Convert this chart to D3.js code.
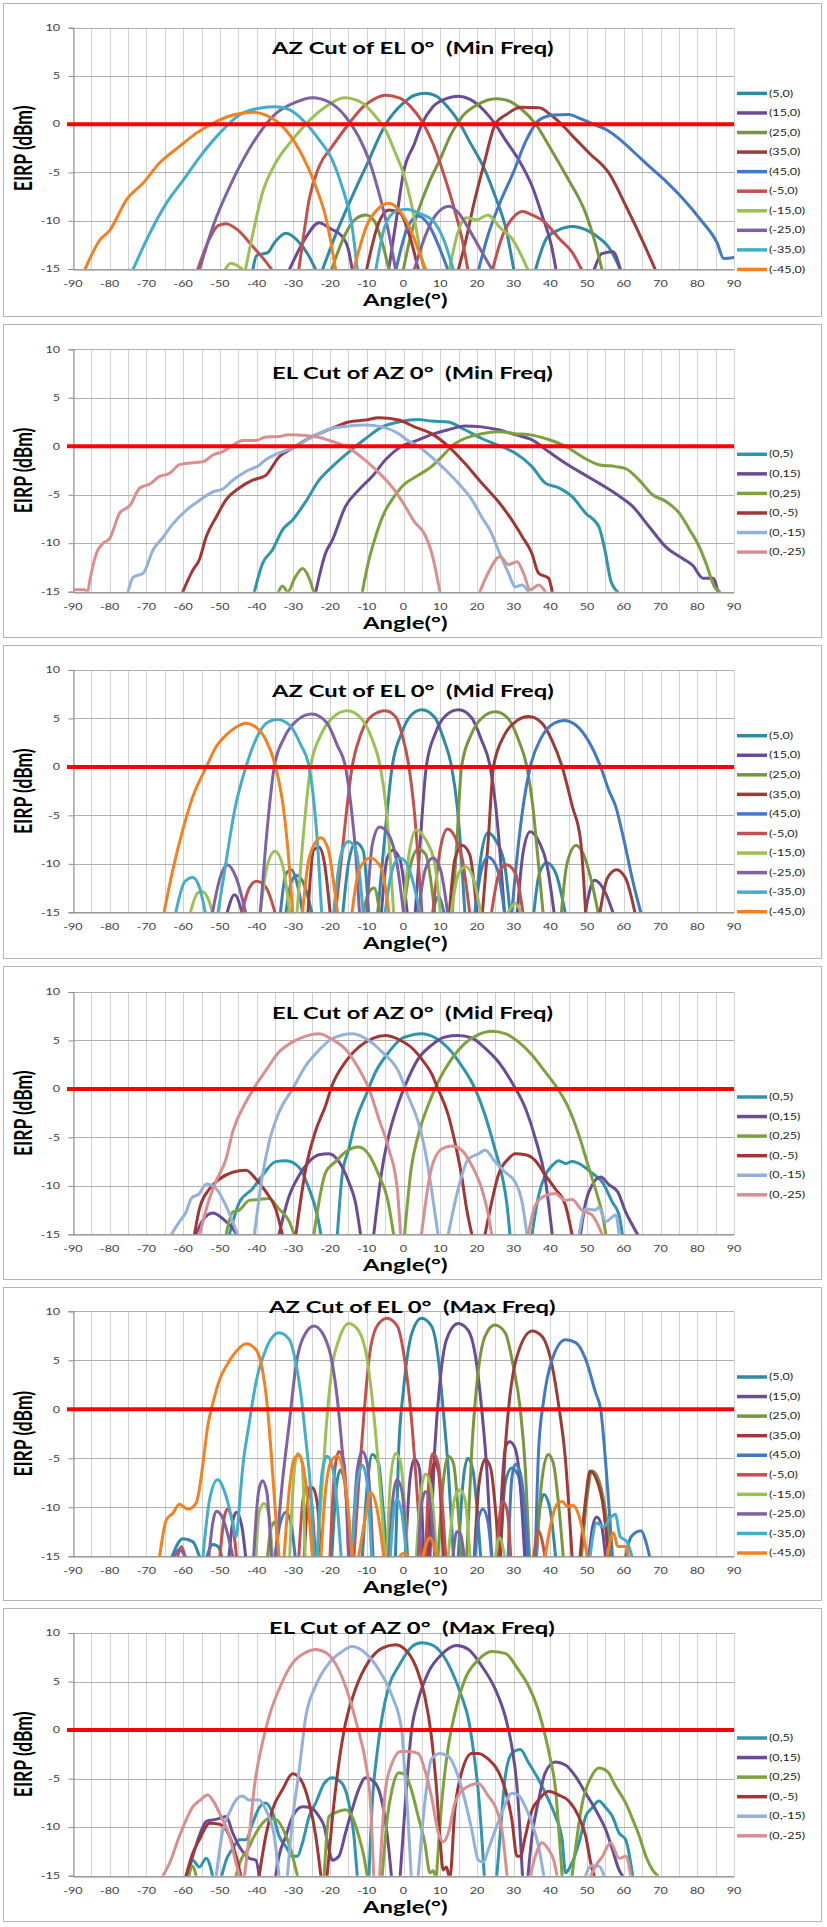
<!DOCTYPE html>
<html><head><meta charset="utf-8">
<script src="https://cdn.jsdelivr.net/npm/d3@7"></script>
<style>
body{margin:0;background:#fff}
svg{display:block}
text{font-family:Lato,"Open Sans","DejaVu Sans",sans-serif}
</style>
</head><body>
<svg id="chart" width="827" height="1927"></svg>
<script>
// ---------------- DATA ----------------
const angleTicks = [-90,-80,-70,-60,-50,-40,-30,-20,-10,0,10,20,30,40,50,60,70,80,90];
const eirpTicks = [-15,-10,-5,0,5,10];
const refLevel = 0;
const panelTitles = ["AZ Cut of EL 0°","EL Cut of AZ 0°","AZ Cut of EL 0°","EL Cut of AZ 0°","AZ Cut of EL 0°","EL Cut of AZ 0°"];
const panelFreqs = ["(Min Freq)","(Min Freq)","(Mid Freq)","(Mid Freq)","(Max Freq)","(Max Freq)"];
const xAxisTitle = "Angle(°)";
const yAxisTitle = "EIRP (dBm)";
const azNames = ["(5,0)","(15,0)","(25,0)","(35,0)","(45,0)","(-5,0)","(-15,0)","(-25,0)","(-35,0)","(-45,0)"];
const elNames = ["(0,5)","(0,15)","(0,25)","(0,-5)","(0,-15)","(0,-25)"];
const azColors = ["#2F8AA5","#6A4B96","#78963B","#9E3B38","#4279C2","#C4504D","#9BC153","#7F61A6","#42AECB","#F4801F"];
const elColors = ["#2E95AE","#6A4B96","#7DA23C","#A33634","#93B1DA","#DA8F8E"];

// ---- AZ cut, Min Freq ----
const azMin_p5 = [[-41,-15],[-40,-13.6],[-37,-13.3],[-35,-12.2],[-32,-11.3],[-29,-12],[-26,-13.5],[-24,-15],null,
 [-22,-15],[-18,-11],[-14,-7.5],[-10,-4.2],[-5,-0.1],[0,2.2],[3,3.0],[6,3.2],[9,2.9],[12,1.8],[15,0.3],[18,-1.8],[22,-4.6],[25,-7.5],[28,-11],[30,-15],null,
 [36,-15],[39,-11.8],[42,-11],[46,-10.6],[50,-11],[54,-12],[56,-12.8],[59,-15]];
const azMin_p15 = [[-31,-15],[-27,-12],[-23,-10.2],[-20,-10.8],[-17,-11.5],[-15,-13],[-14,-15],null,
 [-4,-15],[-2,-10],[0,-5],[3,-2],[5,0],[8,1.8],[12,2.7],[15,2.9],[18,2.6],[22,1.4],[25,0],[27.7,-1.6],[31.4,-3.7],[35,-6.4],[37.8,-9.5],[40.3,-12.6],[41.5,-15],null,
 [52,-15],[54,-13.4],[57,-13.2],[59,-15]];
const azMin_p25 = [[-19.5,-15],[-16,-11.5],[-13,-9.8],[-10.3,-9.4],[-8,-10],[-6,-12],[-4,-15],null,
 [0,-15],[2,-11.5],[4,-9],[7,-6],[10,-3.6],[13,-1],[16,0.8],[20,2.0],[25,2.65],[28,2.5],[32,1.6],[36,0],[40,-2.5],[44.4,-5.4],[49.9,-9.5],[52,-12],[54,-15]];
const azMin_p35 = [[-10,-15],[-7,-10.5],[-4,-8.9],[-1,-9.2],[2,-12],[4,-15],null,
 [15,-15],[17,-12],[19,-8.5],[22,-4],[25,0],[28,1.0],[32,1.75],[37,1.7],[40,1.0],[43,0],[47,-1.6],[50.6,-3.0],[56,-5.1],[60.6,-8.5],[65,-12],[68.5,-15]];
const azMin_p45 = [[-2,-15],[1,-10.8],[4,-9.5],[7,-10.5],[10,-13],[12,-15],null,
 [20.5,-15],[23,-11.5],[26.2,-8.2],[29.8,-5.1],[33.5,-1.6],[37,0.45],[41,0.95],[45,1.0],[48,0.6],[51.7,0],[55.4,-0.6],[59,-1.6],[62.5,-2.8],[67,-4.4],[71.7,-6.0],[76.3,-7.8],[80.9,-9.9],[85.4,-12.3],[87.2,-13.9],[90,-13.8]];
const azMin_n5 = [[-56,-15],[-53,-12],[-50.5,-10.5],[-48.3,-10.3],[-45,-11],[-41,-12.7],[-38,-14],[-36,-15],null,
 [-28.5,-15],[-27,-11],[-25.7,-7.8],[-23,-4.4],[-19.4,-2.3],[-15,0],[-11,1.8],[-8,2.6],[-5,3.0],[-1,2.7],[2,1.8],[5,0.3],[8,-2],[11,-5.2],[14,-9],[16,-12],[17.5,-15],null,
 [24.3,-15],[27,-11.5],[30,-9.6],[32.5,-9.05],[35,-9.4],[38,-10],[42.5,-11.9],[46,-13.3],[48.4,-15]];
const azMin_n15 = [[-48.5,-15],[-47,-14.4],[-45.5,-14.6],[-44,-15],null,
 [-43,-15],[-41,-11.3],[-38.4,-7.1],[-34.8,-4],[-30.2,-1.6],[-26.6,0],[-21.2,1.8],[-16.2,2.75],[-11.2,2.2],[-7.6,0.8],[-4.9,-0.6],[-2.2,-3],[0,-5.1],[2,-8],[4,-12],[5.5,-15],null,
 [12.5,-15],[15,-11],[17,-9.7],[20,-9.9],[23,-9.4],[26,-10.6],[29.8,-12],[33.8,-15]];
const azMin_n25 = [[-55.5,-15],[-51.9,-10.6],[-46.5,-5.8],[-41.1,-2],[-34.8,1.1],[-29.3,2.3],[-24.8,2.75],[-20.3,2.3],[-15.8,0.8],[-12.2,-1.3],[-9.4,-3.7],[-6.7,-7.1],[-4,-11.3],[-2.2,-15],null,
 [3,-15],[6,-11.5],[9,-9.3],[12.5,-8.5],[15,-9.2],[18,-11],[21,-13],[24,-15]];
const azMin_n35 = [[-73.6,-15],[-70,-12],[-64.6,-8.2],[-60,-5.8],[-55.5,-3.4],[-50.1,-0.95],[-44.7,0.95],[-39.3,1.65],[-34.8,1.8],[-31.1,1.5],[-26.6,0.1],[-23,-1.6],[-19.4,-3.7],[-16.7,-6.5],[-14,-10.6],[-12.6,-15],null,
 [-7.5,-15],[-5,-10.5],[-2,-9],[1,-8.8],[4,-9.2],[8,-10],[11,-12],[13.5,-15]];
const azMin_n45 = [[-86.7,-15],[-82.7,-12],[-80,-11],[-75.4,-7.8],[-70.9,-6.1],[-66.4,-4],[-61,-2.3],[-56.5,-0.95],[-51.9,0.1],[-46.5,0.95],[-41.1,1.25],[-37.5,0.95],[-32.9,-0.25],[-28.4,-2.65],[-23.9,-6.45],[-21.2,-9.6],[-19.4,-13],[-18.5,-15],null,
 [-13.5,-15],[-10,-10.5],[-7,-8.8],[-4,-8.2],[-1,-9],[2,-11],[4,-13],[6,-15]];

// ---- EL cut, Min Freq ----
const elMin_p5 = [[-40.6,-15],[-38.4,-12.1],[-35.7,-10.7],[-32.9,-8.6],[-30.2,-7.6],[-26.6,-5.7],[-23,-3.5],[-19.4,-2.1],[-14.9,-0.6],[-10.3,0.8],[-5.8,2.0],[-1.3,2.5],[4,2.75],[7.6,2.6],[12.2,2.5],[16.7,1.7],[21.3,0.8],[25.8,0.1],[30.4,-0.7],[35,-2.1],[38.6,-3.8],[42.3,-4.3],[45.9,-5.2],[49.6,-6.9],[53.2,-8.3],[55,-11],[56.4,-13.8],[58.3,-15]];
const elMin_p15 = [[-23.9,-15],[-21.2,-11],[-19.4,-9.7],[-15.8,-6.2],[-12.2,-4.5],[-8.5,-3.1],[-4.9,-1.4],[0,0.1],[3,0.5],[7.6,1.2],[12.2,1.7],[16.7,2.1],[21.3,2.0],[25.8,1.7],[30.4,1.2],[35,0.65],[39.5,-0.55],[44.1,-1.75],[48.7,-2.8],[53.2,-3.8],[57.8,-4.9],[62.4,-6.2],[66.9,-8.3],[71.5,-10.4],[76.1,-11.6],[78.8,-12.3],[81.5,-13.6],[84.3,-13.6],[85.6,-15]];
const elMin_p25 = [[-34,-15],[-33,-14.4],[-31.5,-15],[-29.5,-13.5],[-27.5,-12.6],[-25.5,-13.8],[-24.5,-15],null,
 [-11.2,-15],[-9.4,-11.7],[-7.6,-9.3],[-4.9,-6.6],[-3.1,-5.5],[0,-4],[4,-3.0],[7.6,-2.1],[10.4,-1.1],[13.1,0],[16.7,0.8],[21.3,1.3],[25.8,1.5],[30.4,1.3],[35,1.15],[39.5,0.7],[44.1,0],[48.7,-1.1],[53.2,-1.9],[57.8,-2.1],[60.5,-2.3],[64.2,-3.5],[67.8,-5.0],[71.5,-5.7],[75.1,-6.9],[77.9,-8.6],[80.6,-10.4],[82.4,-12.1],[84.7,-14.5],[86.1,-15]];
const elMin_n5 = [[-60.1,-15],[-57.4,-12.8],[-55.6,-11.7],[-53.7,-9.3],[-51,-7.3],[-48.3,-5.5],[-44.7,-4.3],[-41.1,-3.5],[-37.5,-3.0],[-33.9,-1.1],[-30.2,-0.2],[-26.6,0.65],[-23,1.3],[-19.4,1.85],[-14.9,2.5],[-10.3,2.7],[-6.7,2.95],[-1.3,2.7],[3,2.0],[7.6,1.3],[12.2,0],[16.7,-1.75],[21.3,-3.8],[25.8,-5.7],[29.5,-7.6],[32.3,-9.3],[34.9,-11],[36.8,-13.1],[39.5,-13.6],[40.5,-15]];
const elMin_n15 = [[-75,-15],[-73.6,-13.5],[-70.9,-13.1],[-68.2,-10.7],[-65.5,-9.4],[-62.8,-8.0],[-59.2,-6.6],[-55.6,-5.6],[-51.9,-4.7],[-49.2,-4.4],[-46.5,-3.5],[-42.9,-2.6],[-39.3,-1.95],[-37.5,-1.4],[-33.9,-0.7],[-30.2,-0.2],[-24.8,1.0],[-19.4,1.85],[-14.9,2.1],[-10.3,2.2],[-5.8,2.0],[-1.3,1.3],[1.2,0.6],[4,0],[7.6,-1.1],[11.3,-2.4],[14.9,-3.8],[18.6,-5.5],[21.3,-7.3],[24,-9],[25.8,-10.7],[28.6,-13.1],[30.4,-14.5],[32.3,-14.3],[34,-15]];
const elMin_n25 = [[-90,-14.8],[-87,-14.8],[-86,-15],[-85.4,-13.8],[-83.6,-11],[-81.8,-10],[-80,-9.5],[-77.3,-6.9],[-74.5,-6.1],[-71.8,-4.3],[-69.1,-3.9],[-66.4,-3.1],[-63.7,-2.8],[-61,-1.9],[-57.4,-1.7],[-54.6,-1.6],[-51.9,-0.9],[-49.2,-0.55],[-46.5,0.1],[-43.8,0.6],[-40.2,0.6],[-37.5,0.95],[-33.9,1.0],[-31.3,1.2],[-26.6,1.1],[-23.5,0.95],[-19.4,0.5],[-15.8,0],[-12.2,-0.9],[-7.6,-2.4],[-3.1,-4.2],[0,-5.9],[3,-7.8],[5.8,-9.1],[7.6,-10.9],[9.9,-15],null,
 [20.8,-15],[23,-13.1],[26.3,-11.4],[28.6,-12.2],[30.9,-11.9],[32.7,-13.1],[34.5,-14.8],[36.8,-14.3],[38.6,-15]];

// ---- AZ cut, Mid Freq ----
const azMid_p5 = [[-32,-15],[-30.5,-11.8],[-29,-11.2],[-27,-12.2],[-25,-15],null,
 [-16.5,-15],[-15,-10],[-13,-7.8],[-11,-8.6],[-9.5,-15],null,
 [-7,-15],[-5.3,-8],[-3.1,0],[-0.5,3.5],[2,5.3],[5,5.9],[8.5,5.1],[11,2.8],[13.1,0],[14.6,-4],[15.7,-9],[16.7,-15],null,
 [19.5,-15],[21,-9.5],[23,-6.8],[25,-7.5],[27.5,-10],[29,-15],null,
 [35.5,-15],[37,-11],[39,-9.9],[41.5,-11],[44,-15]];
const azMid_p15 = [[-48,-15],[-46,-13.2],[-44,-15],null,
 [-6,-15],[-4.5,-9.5],[-3,-8.6],[-1,-9.5],[1,-15],null,
 [3.2,-15],[4.5,-8],[6.2,0],[8.7,3.5],[11.5,5.3],[15,5.9],[18.5,5.1],[21.2,2.8],[23.6,0],[25.1,-4],[26.3,-9],[27.5,-15],null,
 [31,-15],[32.5,-9],[34.5,-6.7],[37,-7.8],[39,-10],[41,-15],null,
 [49.5,-15],[52,-11.7],[55,-13],[57,-15]];
const azMid_p25 = [[-11,-15],[-9.5,-13],[-8,-12.5],[-6.5,-15],null,
 [0,-15],[2,-10],[4,-8.5],[6,-9],[8.5,-15],null,
 [13.3,-15],[14.5,-8],[15.8,0],[18.5,3.4],[21.5,5.1],[25,5.7],[28.5,5.0],[31.3,2.8],[33.6,0],[35.2,-4],[36.5,-9],[38,-15],null,
 [43,-15],[44.5,-10],[47,-8.1],[49,-9],[51,-11.5],[53,-15]];
const azMid_p35 = [[-26,-15],[-24.5,-8.6],[-23,-8.3],[-21.5,-10],[-20,-15],null,
 [12.5,-15],[14,-9.5],[16,-8.1],[18,-9],[20,-15],null,
 [21.5,-15],[23,-8],[24.5,0],[27.5,3.3],[31,4.8],[34,5.2],[37.5,4.6],[40.5,2.7],[43.2,0],[46,-4.1],[48.2,-7.5],[49.6,-15],null,
 [53.5,-15],[55.5,-11.5],[58,-10.6],[60.5,-11.5],[63,-15]];
const azMid_p45 = [[-33.5,-15],[-32,-11],[-30.5,-10.6],[-29,-12],[-27.5,-15],null,
 [8,-15],[9.5,-13.4],[11,-15],null,
 [19.5,-15],[21,-11],[23,-9.3],[25.5,-10.5],[27.5,-15],null,
 [29.5,-15],[31,-9],[32.8,-3.5],[34.5,0],[37.5,3],[41,4.5],[43.7,4.8],[47,4.3],[50.5,2.6],[53.7,0],[56,-2.5],[57.8,-4.1],[60,-7.5],[62.4,-11.7],[64.6,-15]];
const azMid_n5 = [[-44,-15],[-42,-12.5],[-40,-11.8],[-37.5,-12.4],[-35,-15],null,
 [-18.5,-15],[-16.5,-8],[-14,0],[-11.5,3.5],[-8.5,5.3],[-5,5.8],[-2,5.1],[-0.3,3.2],[1.5,0],[2.8,-4],[3.9,-9],[5,-15],null,
 [8,-15],[10,-8.5],[12,-6.4],[14,-7.2],[16,-9.5],[18,-15],null,
 [24,-15],[26,-11],[28,-10.1],[30.5,-11],[32.5,-15]];
const azMid_n15 = [[-58,-15],[-56,-13],[-54.6,-12.9],[-53,-13.8],[-52,-15],null,
 [-39,-15],[-37,-10],[-35,-8.7],[-33,-10],[-31,-15],null,
 [-29,-15],[-27.5,-8],[-25.3,0],[-22.5,3.3],[-19,5.2],[-15.3,5.8],[-11.5,5.0],[-8.5,2.8],[-6.3,0],[-4.8,-4],[-3.7,-9],[-2.7,-15],null,
 [0,-15],[1.5,-9],[3.5,-6.5],[6,-7.5],[8.5,-10],[10,-15],null,
 [13,-15],[15,-11],[17,-10.3],[19,-11.5],[21,-15],null,
 [28.5,-15],[30.4,-14.1],[32,-15]];
const azMid_n25 = [[-52,-15],[-50,-11.5],[-48,-10.1],[-45.5,-11.5],[-43,-15],null,
 [-39,-15],[-37.5,-8],[-35.2,0],[-32.5,3],[-29,4.8],[-25,5.45],[-21,4.6],[-18,2.2],[-15.8,0],[-14.3,-4],[-13,-9],[-12,-15],null,
 [-10,-15],[-8.5,-8],[-6.5,-6.2],[-4,-7],[-2,-9.5],[0,-15],null,
 [4,-15],[6,-10.5],[8,-9.4],[10,-10.5],[12,-15]];
const azMid_n35 = [[-62,-15],[-59.5,-11.8],[-57.4,-11.4],[-55.5,-12.5],[-54,-15],null,
 [-50.5,-15],[-48,-9],[-46,-4.5],[-42.9,0],[-40,3],[-37,4.6],[-34.5,4.9],[-31,4.3],[-28,2.3],[-25.7,0],[-24.3,-4],[-23.3,-8.5],[-22.3,-15],null,
 [-19,-15],[-17,-9],[-15,-7.7],[-13,-8.5],[-11,-15],null,
 [-5,-15],[-3,-10.5],[-1,-9.4],[1,-10],[3,-12.5],[4.5,-15]];
const azMid_n45 = [[-65.2,-15],[-62.8,-10.6],[-60.1,-6.5],[-57.4,-3.1],[-53.7,0],[-51,2.1],[-48.3,3.3],[-45.6,4.1],[-42.9,4.5],[-40.2,4.1],[-37.5,2.8],[-34.8,0],[-33,-3.4],[-31.6,-8],[-30.2,-15],null,
 [-27.5,-15],[-26,-10],[-24,-7.8],[-22.5,-7.3],[-20.5,-8.5],[-19,-12],[-18,-15],null,
 [-14,-15],[-12,-10.5],[-9,-9.4],[-6,-10.5],[-4,-15]];

// ---- EL cut, Mid Freq ----
const elMid_p5 = [[-47.4,-15],[-44.7,-11.7],[-41.1,-10.3],[-38.4,-8.9],[-34.8,-7.5],[-32,-7.4],[-28.4,-8.1],[-25.7,-10.3],[-23.5,-13],[-22.5,-15],null,
 [-18,-15],[-16.7,-8.9],[-14.9,-6.2],[-13.1,-3.4],[-10.3,-0.7],[-7.6,1.75],[-4,3.8],[-0.5,5.2],[1.2,5.45],[4.9,5.7],[8.5,5.3],[12.2,4.2],[15.8,2.4],[19.5,0],[22.2,-2.7],[24.9,-6.2],[26.8,-8.9],[28.1,-11.7],[29,-15],null,
 [35,-15],[36.8,-11],[38.6,-8.9],[40.5,-7.9],[42.3,-7.4],[44.1,-7.7],[45.9,-7.5],[48.7,-7.9],[51.4,-8.7],[54.1,-9.6],[56.9,-11.7],[58.7,-13],[59.6,-15]];
const elMid_p15 = [[-56.5,-15],[-54.6,-13.5],[-51.9,-12.8],[-49.2,-13.4],[-46.5,-14.4],[-45.5,-15],null,
 [-33.9,-15],[-31.1,-11],[-28.4,-8.9],[-25.7,-7.5],[-23,-6.8],[-20.3,-6.7],[-17.6,-7.5],[-14.9,-9.6],[-13.1,-11.7],[-11.7,-15],null,
 [-8.1,-15],[-5.8,-8.2],[-4,-4.8],[-1.3,-1.35],[1.4,1.2],[4,3.1],[7.6,4.5],[11.3,5.35],[14.9,5.5],[18.6,5.25],[22.2,4.2],[25.8,2.8],[29.5,0.7],[33.2,-2],[35.9,-5.1],[38.6,-9.3],[40.5,-15],null,
 [48.2,-15],[49.6,-11.7],[51.4,-9.9],[53.7,-9.1],[56,-9.9],[58.3,-10.6],[60.5,-12.7],[62.4,-14.1],[63.7,-15]];
const elMid_p25 = [[-48.3,-15],[-46.5,-12.7],[-44.7,-12.5],[-42,-11.5],[-39.3,-11.4],[-36.6,-11.3],[-33.9,-12.4],[-31.1,-13.7],[-29.8,-15],null,
 [-24.4,-15],[-21.2,-8.6],[-18.5,-7.5],[-15.8,-6.5],[-12.2,-6.0],[-9.4,-6.8],[-6.7,-8.9],[-4.4,-11.3],[-2.7,-15],null,
 [0.3,-15],[2.1,-8.2],[4,-4.8],[6.7,-1.7],[9.4,0.7],[13.1,3.1],[16.7,4.7],[20.4,5.6],[24,5.95],[27.7,5.7],[31.3,4.85],[35,3.5],[38.6,1.75],[42.3,-0.15],[45,-2.0],[47.8,-4.8],[50.5,-8.2],[52.8,-11],[54.2,-13],[55.1,-15]];
const elMid_n5 = [[-56.9,-15],[-55.6,-12.4],[-52.8,-10.3],[-50.1,-9.3],[-46.5,-8.6],[-42.9,-8.4],[-40.2,-9.3],[-37.5,-10.6],[-34.8,-12.4],[-33,-15],null,
 [-29.3,-15],[-26.6,-8.2],[-24,-4.4],[-21.2,-1.7],[-19.4,0.4],[-15.8,2.8],[-12.2,4.3],[-8.5,5.2],[-4.9,5.5],[-1.3,5.1],[2.1,4.3],[4.9,3.1],[7.6,1.6],[9.4,0],[12.2,-2.7],[14,-5.5],[15.8,-8.9],[17.2,-12.4],[18.6,-15],null,
 [22.2,-15],[24,-11.7],[25.8,-8.9],[28.6,-7.2],[30.4,-6.7],[33.2,-6.8],[35.9,-7.4],[38.6,-8.9],[41.3,-10.3],[44.1,-12],[45.9,-15]];
const elMid_n15 = [[-63.2,-15],[-61,-13.7],[-59.2,-12.7],[-57.8,-11.3],[-55.6,-10.8],[-53.7,-9.8],[-51,-10.3],[-48.8,-11.7],[-46.5,-13.7],[-45.2,-15],null,
 [-40.6,-15],[-38.4,-8.9],[-36.6,-5.5],[-33.9,-2.4],[-30.2,0],[-26.6,2.4],[-23,4.0],[-19.4,5.2],[-14,5.7],[-10.3,5.2],[-5.8,3.8],[-1.3,1.75],[1.2,-0.7],[4,-3.4],[5.8,-6.2],[7.6,-10.3],[9.4,-15],null,
 [12.2,-15],[14.9,-10.3],[17.7,-7.2],[20.4,-6.7],[22.2,-6.3],[24.9,-7.5],[27.7,-8.6],[30.4,-9.6],[32.3,-11.7],[33.6,-15],null,
 [47.8,-15],[49.6,-12.4],[52.3,-12.5],[53.2,-12.2],[55,-13.7],[57.8,-13],[58.7,-15]];
const elMid_n25 = [[-55.5,-15],[-53,-11.5],[-51,-9.5],[-48.3,-7.2],[-46.5,-4.4],[-42.9,-1.35],[-40.2,0.4],[-37.5,1.9],[-33.9,3.8],[-30.2,4.85],[-26.6,5.45],[-23,5.7],[-19.4,5.1],[-15.8,4.1],[-12.2,2.1],[-9.4,0],[-6.7,-3.1],[-4,-6.2],[-1.7,-10.3],[-0.8,-15],null,
 [4.9,-15],[7.6,-8.2],[10.4,-6.2],[13.1,-5.9],[15.8,-6.3],[18.6,-7.9],[21.3,-10.3],[23.1,-13],[24,-15],null,
 [34,-15],[35.9,-12],[38.6,-11],[41.3,-10.8],[44,-11.5],[45.9,-11.4],[48.5,-12.5],[51.3,-13],[54.1,-15]];

// ---- AZ cut, Max Freq ----
const azMax_p5 = [[-63,-15],[-60.1,-13.2],[-57.4,-13.5],[-55.6,-15],null,
 [-53.5,-15],[-52,-13.8],[-50.5,-14],[-49.5,-15],null,
 [-19.5,-15],[-18.3,-8],[-17.2,-6.2],[-16,-7.5],[-14.5,-15],null,
 [-11.2,-15],[-9.8,-7.5],[-8.5,-4.6],[-6.8,-5.5],[-5.4,-10.9],[-4.5,-15],null,
 [-2.2,-15],[-1.3,-4.1],[0,2],[2.3,7.8],[4.9,9.3],[7.6,8.5],[9.4,5.4],[10.8,0],[12.2,-6.2],[13.6,-15],null,
 [14.9,-15],[16.2,-7.5],[17.5,-5],[18.9,-6.2],[20.2,-10.9],[21,-15],null,
 [26.4,-15],[27.7,-7.5],[29.5,-6],[31.3,-6.8],[32.7,-10.9],[33.6,-15],null,
 [36.2,-15],[37.1,-10.2],[38.2,-8.7],[39.9,-10.2],[41.4,-15]];
const azMax_p15 = [[-47.5,-15],[-46.5,-11.5],[-45.5,-10.5],[-44,-12],[-43,-15],null,
 [0.5,-15],[1.8,-7],[3,-5.1],[4.3,-6],[5.5,-15],null,
 [7.2,-15],[8.5,-4.1],[9.9,2.7],[11.7,7.1],[14.9,8.75],[17.7,8],[20,4.4],[21.3,0],[22.7,-6.2],[24,-15],null,
 [26,-15],[26.9,-7.5],[27.8,-3.8],[28.9,-3.3],[30.2,-3.8],[31.6,-6.8],[33,-15],null,
 [50.5,-15],[51.5,-12],[52.6,-11],[54,-12],[55,-15]];
const azMax_p25 = [[-37,-15],[-36,-12],[-35,-11.5],[-34,-15],null,
 [9.4,-15],[10.8,-7.5],[12.2,-4.8],[13.6,-5.5],[15,-10.9],[15.8,-15],null,
 [17.2,-15],[18.6,-4.1],[20,2.7],[22.2,7.45],[24.9,8.6],[27.7,7.8],[29.9,4.4],[31.8,0],[33.2,-6.2],[34.3,-15],null,
 [36.2,-15],[37.6,-7.5],[39.4,-4.6],[40.8,-5.5],[42.1,-9.2],[43.5,-15],null,
 [48.5,-15],[49.9,-9.3],[51.4,-6.3],[53.4,-7.5],[55.2,-10.9],[56.5,-15]];
const azMax_p35 = [[-27,-15],[-26,-9],[-24.8,-8],[-23.5,-9.5],[-22.5,-15],null,
 [6.5,-15],[7.5,-7],[8.5,-5.4],[9.6,-6.5],[10.8,-15],null,
 [19.3,-15],[20.6,-7.5],[22.3,-5.1],[23.8,-6.1],[25.2,-10.9],[26.1,-15],null,
 [26.4,-15],[27.7,-4.1],[28.6,0],[30.9,5.4],[35,8],[37.7,7.45],[40.5,4.4],[42.3,0.3],[44.1,-5.1],[45.2,-10.9],[45.9,-15],null,
 [48.1,-15],[49.5,-9.5],[50.8,-6.3],[52.6,-7.2],[54.5,-10.2],[55.8,-15]];
const azMax_p45 = [[-35,-15],[-33.5,-11.5],[-32,-10.5],[-30.5,-12],[-29.5,-15],null,
 [19.5,-15],[20.5,-11],[21.6,-10.2],[23,-11.5],[24,-15],null,
 [28.5,-15],[29.5,-7],[30.5,-5.6],[31.8,-6.5],[33,-10],[34,-15],null,
 [35.9,-15],[36.8,-4.1],[38.2,1],[40.5,5.1],[44.1,7.1],[46.9,6.8],[49.6,5.1],[52.3,1.7],[53.7,0],[54.6,-3.4],[56,-10.2],[56.9,-15],null,
 [60.5,-15],[62,-13],[64.7,-12.4],[66,-13.5],[67,-15]];
const azMax_n5 = [[-61.5,-15],[-60.5,-14],[-59.5,-15],null,
 [-50,-15],[-48.8,-11],[-48,-10.2],[-46.8,-11],[-45.5,-15],null,
 [-28.5,-15],[-27.3,-9],[-26.4,-7.9],[-25.2,-9],[-24,-15],null,
 [-20,-15],[-18.8,-6.5],[-17.6,-4.3],[-16.2,-5.5],[-15,-15],null,
 [-13.5,-15],[-12.2,-7.5],[-10.8,-0.7],[-9.4,5.1],[-7.2,8.5],[-4.5,9.3],[-1.7,8.5],[0.3,5.1],[2.1,-0.7],[3.5,-7.5],[4.9,-15],null,
 [6,-15],[6.8,-8],[8,-4.5],[9.4,-5.5],[10.8,-10.9],[11.5,-15],null,
 [25.5,-15],[26.3,-10.5],[27.1,-9.4],[28.3,-10.5],[29.2,-15],null,
 [35.5,-15],[36.7,-12.4],[37.8,-13.5],[38.5,-15]];
const azMax_n15 = [[-40.2,-15],[-39.3,-10.5],[-38,-9.6],[-36.6,-10.9],[-35.7,-15],null,
 [-31,-15],[-29.8,-6.5],[-28.8,-4.5],[-27.6,-5.5],[-26.8,-15],null,
 [-23.5,-15],[-22.1,-7.5],[-20.8,-0.7],[-19.4,4.4],[-17.6,7.1],[-14.9,8.75],[-12.2,8],[-9.9,5.1],[-8.5,1],[-7.2,-4.1],[-5.8,-10.9],[-5.1,-15],null,
 [-4.5,-15],[-3.6,-7.5],[-2.2,-4.5],[-0.9,-5.2],[0.5,-10.9],[1.2,-15],null,
 [3.5,-15],[4.6,-9],[6,-6.6],[7.4,-7.8],[9,-15],null,
 [12.2,-15],[14,-9],[15.4,-8.2],[16.8,-9.3],[18.1,-15],null,
 [25,-15],[26.2,-13.1],[27.5,-15]];
const azMax_n25 = [[-62.5,-15],[-61,-14.3],[-59.5,-15],null,
 [-53,-15],[-51.9,-11.5],[-51,-10.4],[-49.5,-10.9],[-47.7,-13],[-46.5,-15],null,
 [-40.8,-15],[-39.5,-8.5],[-38.4,-7.3],[-37.2,-8.5],[-36,-15],null,
 [-34.8,-15],[-33,-7.5],[-31.1,-1.4],[-29.3,4.4],[-26.6,7.8],[-24.4,8.5],[-21.6,7.45],[-19.4,4.7],[-18,1],[-16.7,-4.1],[-15.3,-10.9],[-14.9,-15],null,
 [-14,-15],[-12.6,-6.2],[-11.2,-4.3],[-9.9,-5.5],[-8.8,-10.9],[-8.3,-15],null,
 [-4,-15],[-3,-9.5],[-1.8,-7.2],[-0.5,-8.2],[1,-15],null,
 [4,-15],[5,-9.5],[6,-8.4],[7.3,-9.8],[8.5,-15],null,
 [13.5,-15],[14.5,-12.5],[15.5,-12.7],[16.5,-15]];
const azMax_n35 = [[-54.6,-15],[-52.8,-9.2],[-50.6,-7.2],[-48.3,-8.9],[-46.5,-11.6],[-45.6,-13],[-44.5,-9],[-43.8,-6],[-42,-1.4],[-40.2,2.7],[-37.5,6.1],[-33.9,7.8],[-31.1,7.1],[-29.3,4.7],[-28,1.7],[-26.6,-3.1],[-25.3,-8.2],[-24.4,-15],null,
 [-23.5,-15],[-22.2,-6.5],[-20.8,-4.8],[-19.4,-5.8],[-18,-10],[-17,-15],null,
 [-14,-15],[-12.6,-7.5],[-11.2,-5.7],[-9.9,-7.5],[-8.7,-15],null,
 [-3.6,-15],[-2.5,-10],[-1.8,-9.2],[-0.5,-10.5],[0.8,-15],null,
 [50.8,-15],[52.6,-11.6],[54.5,-12],[56.3,-11.1],[57.7,-10.7],[59,-13],[60.8,-13.5],[62.2,-15]];
const azMax_n45 = [[-66.4,-15],[-64.6,-11.3],[-62.8,-10.6],[-61,-9.7],[-58.7,-10.2],[-56.5,-9.6],[-55.6,-8.2],[-54.6,-5.5],[-53.3,-1.7],[-51.9,0.65],[-50.1,3.0],[-48.3,4.4],[-45.6,5.9],[-42.9,6.7],[-40.2,6.1],[-38.4,4.0],[-37,0],[-36.1,-4.1],[-34.8,-10.9],[-33.9,-15],null,
 [-32.5,-15],[-31.1,-8.2],[-29.8,-5.1],[-28.4,-4.7],[-27,-6.5],[-25.7,-10.9],[-24.8,-15],null,
 [-22.5,-15],[-21.2,-8.2],[-19.4,-5.1],[-18,-4.8],[-16.2,-6.8],[-14.9,-10.9],[-14,-15],null,
 [-12.2,-15],[-10.3,-10.9],[-9,-8.5],[-7.2,-10.2],[-5.4,-15],null,
 [-1,-15],[0,-14.7],[1,-15],null,
 [5.3,-15],[7.2,-13.1],[9,-15],null,
 [38.6,-15],[40,-11.9],[41.8,-9.7],[43.2,-9.4],[44.6,-9.9],[46,-9.8],[47.8,-10.9],[49.1,-13],[50,-15],null,
 [55.5,-15],[57.2,-12.6],[58.3,-14],[60.5,-14],[61.2,-15]];

// ---- EL cut, Max Freq ----
const elMax_p5 = [[-58.5,-15],[-57.4,-13.4],[-55.6,-14.1],[-53.7,-13.2],[-52,-15],null,
 [-49.5,-15],[-48.3,-13.4],[-46.5,-12.2],[-44.7,-11.3],[-42.9,-11.3],[-41.1,-9.6],[-39.3,-8],[-37.5,-7.5],[-35.7,-8.5],[-33.9,-10.9],[-32,-12],[-30.2,-13],[-28.9,-13],[-27.5,-11.6],[-25.7,-8.9],[-23.9,-7.5],[-21.6,-5.5],[-19.4,-4.9],[-16.7,-5.5],[-14.9,-7.5],[-13.5,-10.9],[-12.6,-15],null,
 [-9.4,-15],[-8.5,-7.5],[-7.2,-2.4],[-5.8,1.4],[-4,4.5],[-1.3,6.6],[2.3,8.6],[4.9,9],[7.6,8.8],[10.4,7.9],[13.1,6.1],[15.8,3.5],[17.7,1.1],[19,-2],[20.4,-6.5],[21.3,-10.9],[22,-15],null,
 [25.4,-15],[26.3,-10.9],[27.7,-4.8],[29.5,-2.4],[31.8,-2],[34.1,-3.4],[36.8,-5.1],[39.5,-7.2],[41.4,-8.9],[43.2,-11.3],[44.1,-14.7],[45.5,-14],[47.8,-11.6],[49.6,-8.9],[51.4,-8],[53.2,-7.3],[55.1,-8],[56.9,-8.9],[58.7,-10.6],[60.5,-11.3],[62.4,-15]];
const elMax_p15 = [[-59.2,-15],[-57.4,-13],[-55.6,-10.9],[-53.7,-9.4],[-51,-9.2],[-48.3,-8.9],[-46.5,-10.6],[-44.7,-12],[-42,-13.2],[-40.2,-13.4],[-39.3,-15],null,
 [-34.8,-15],[-33.9,-13],[-32,-10.9],[-30.2,-8.9],[-27.5,-7.9],[-25.3,-8],[-23,-8.9],[-21.6,-9.9],[-20.3,-12.3],[-19.4,-13.4],[-17.6,-13],[-15.8,-10.6],[-14,-8.2],[-12.2,-6.1],[-10.3,-4.9],[-7.6,-5.5],[-5.8,-7.5],[-4.4,-10.9],[-3.3,-15],null,
 [-0.9,-15],[0.5,-7.5],[2.1,-0.3],[4,3.1],[6.7,5.9],[10.4,7.8],[14.5,8.7],[17.7,8.3],[21.3,6.6],[25,4.2],[27.7,1.4],[29.5,-1.7],[30.9,-5.8],[31.8,-10.9],[32.4,-15],null,
 [33.9,-15],[35,-10.9],[36.8,-7.2],[38.6,-4.4],[41.3,-3.3],[44.1,-3.6],[46.9,-4.8],[49.6,-6.5],[52.3,-8.2],[55.1,-10.3],[56.9,-12.3],[58.7,-14.4],[59.6,-15]];
const elMax_p25 = [[-58.5,-15],[-57.4,-14],[-56.5,-15],null,
 [-45.6,-15],[-44.3,-13.4],[-42.4,-12.3],[-40.6,-10.9],[-38.4,-9.6],[-36.6,-9.1],[-34.8,-9.2],[-32,-10.9],[-30.2,-13],[-28.9,-15],null,
 [-21.6,-15],[-20.3,-8.9],[-18.5,-8.5],[-15.8,-8.2],[-14,-8.9],[-12.2,-10.9],[-10.8,-13],[-9.9,-15],null,
 [-5.8,-15],[-4.4,-9],[-3.1,-6.1],[-1.3,-4.4],[0.5,-4.6],[2.1,-6.1],[4,-8.9],[5.8,-11.6],[7.2,-14.7],[8.1,-14.5],[8.6,-15],null,
 [9,-15],[10.4,-7.5],[12.2,-1.7],[14,1.75],[16.7,5.2],[20.4,7.25],[24,8.1],[27.7,7.9],[31.3,6.2],[34.1,4.5],[36.4,2.4],[38.2,0],[40,-3],[41.4,-6.1],[42.3,-10.3],[43.2,-15],null,
 [45.9,-15],[47.3,-10.9],[48.7,-7.5],[51,-4.9],[53.2,-3.9],[55.5,-4.25],[57.8,-5.8],[60.5,-7.5],[62.4,-9.2],[64.2,-10.9],[66,-13],[67.8,-14.4],[69.2,-15]];
const elMax_n5 = [[-59.2,-15],[-57.4,-12.7],[-55.6,-11.3],[-52.8,-9.6],[-50.1,-9.7],[-47.4,-10.9],[-45.6,-13],[-44.3,-15],null,
 [-39.3,-15],[-37.5,-10.9],[-35.7,-8.2],[-32.9,-6.1],[-30.2,-4.5],[-28,-5.1],[-25.7,-7.5],[-23.9,-10.9],[-22.5,-15],null,
 [-20.8,-15],[-19.4,-9.2],[-17.6,-3.4],[-15.8,0.7],[-13.1,4.2],[-9.4,7.1],[-5.8,8.45],[-2.2,8.8],[1.4,7.9],[4,5.9],[5.8,3.5],[7.6,-0.65],[9,-6.1],[9.9,-10.9],[10.8,-14.4],[11.7,-14.1],[12.6,-15.3],[14,-8.2],[15.8,-4.4],[18.6,-2.4],[20.4,-2.4],[23.1,-3],[25.8,-4.25],[27.7,-6.1],[29.5,-9.2],[30.9,-13],[31.8,-13],[33.2,-10.9],[35,-8.2],[36.8,-7.2],[39.5,-6.3],[42.3,-6.7],[45,-7.3],[47.7,-8.9],[49.6,-10.9],[51,-13.7],[51.9,-15]];
const elMax_n15 = [[-51,-15],[-49.2,-10.3],[-47.4,-8.5],[-45.6,-7.2],[-43.8,-6.8],[-42,-7.2],[-39.3,-7.2],[-37.5,-8.2],[-35.2,-10.9],[-33.9,-15],null,
 [-31.6,-15],[-30.2,-9.2],[-28.4,-4.1],[-26.6,1.4],[-24,4.5],[-20.3,6.9],[-16.7,8.1],[-14,8.6],[-10.3,7.9],[-6.7,6.2],[-3.1,3.5],[-0.5,0],[0.3,-4.1],[1.2,-8.9],[2.1,-15],null,
 [4,-15],[5.8,-7.5],[7.6,-3],[9.9,-2.4],[12.2,-2.7],[14.9,-4.8],[16.7,-7.2],[18.6,-10.3],[20.4,-13.4],[21.8,-13.6],[23.1,-12.3],[25,-10.3],[26.8,-8.5],[29.5,-6.5],[31.3,-6.7],[33.2,-7.9],[35,-9.6],[36.8,-12],[38.2,-15],null,
 [49.6,-15],[51,-14],[53.2,-14],[54.6,-15]];
const elMax_n25 = [[-65.5,-15],[-63.7,-13.7],[-61,-10.9],[-59.6,-9.6],[-57.4,-7.9],[-55.6,-7.3],[-53.3,-6.7],[-51.5,-7.5],[-49.7,-8.9],[-47.4,-10.9],[-45.6,-13.7],[-44.7,-15],null,
 [-43.3,-15],[-42,-10.9],[-40.6,-5.8],[-38.4,-1.3],[-36.6,1.4],[-33.9,4.2],[-30.2,6.9],[-26.6,8.0],[-24,8.3],[-20.8,7.9],[-17.6,6.2],[-14.9,3.5],[-12.6,0.4],[-10.3,-3.4],[-9,-7.5],[-8.1,-15],null,
 [-6.5,-15],[-4.9,-6.1],[-3.1,-3.4],[-0.8,-2.2],[1.2,-2.2],[4,-2.4],[5.8,-4.1],[7.6,-6.8],[9.5,-10.6],[10.8,-11.5],[12.2,-10.6],[14,-7.5],[16.7,-6],[20.4,-5.5],[23.1,-6.8],[25,-7.9],[26.8,-10.3],[28.2,-15],null,
 [34.5,-15],[35.9,-13],[37.7,-11.6],[39.5,-12.3],[40.9,-13.4],[41.8,-15],null,
 [51,-15],[52.3,-14],[54.2,-13],[56.4,-11.6],[58.7,-13.2],[60.5,-13],[61.9,-15]];

// ---------------- LAYOUT ----------------
const panels = [
  {names: azNames, colors: azColors, series: [azMin_p5,azMin_p15,azMin_p25,azMin_p35,azMin_p45,azMin_n5,azMin_n15,azMin_n25,azMin_n35,azMin_n45]},
  {names: elNames, colors: elColors, series: [elMin_p5,elMin_p15,elMin_p25,elMin_n5,elMin_n15,elMin_n25]},
  {names: azNames, colors: azColors, series: [azMid_p5,azMid_p15,azMid_p25,azMid_p35,azMid_p45,azMid_n5,azMid_n15,azMid_n25,azMid_n35,azMid_n45]},
  {names: elNames, colors: elColors, series: [elMid_p5,elMid_p15,elMid_p25,elMid_n5,elMid_n15,elMid_n25]},
  {names: azNames, colors: azColors, series: [azMax_p5,azMax_p15,azMax_p25,azMax_p35,azMax_p45,azMax_n5,azMax_n15,azMax_n25,azMax_n35,azMax_n45]},
  {names: elNames, colors: elColors, series: [elMax_p5,elMax_p15,elMax_p25,elMax_n5,elMax_n15,elMax_n25]}
];
const panelTop = [3, 324, 645, 966, 1287, 1608];
const plotTop = [27.7, 349.3, 670, 992, 1311.3, 1633];
const plotBottom = [269, 591.7, 912.3, 1234.3, 1556.3, 1875.7];
const titleY = [54, 379, 697, 1019, 1313, 1634];
const titleX = [272, 272, 272, 272, 269, 269];
const plotLeft = 73, plotRight = 734;
const SX = 1.4; // horizontal stretch of the original raster text

const svg = d3.select("#chart");

panels.forEach((p, i) => {
  const g = svg.append("g");
  const x = d3.scaleLinear().domain([-90, 90]).range([plotLeft, plotRight]);
  const y = d3.scaleLinear().domain([-15, 10]).range([plotBottom[i], plotTop[i]]);

  // panel frame
  g.append("rect").attr("x", 3.5).attr("y", panelTop[i] + 0.5).attr("width", 818).attr("height", 313)
    .attr("fill", "#fff").attr("stroke", "#b5b5b5").attr("stroke-width", 1);

  // vertical grid every 5 degrees
  g.append("g").selectAll("line").data(d3.range(-90, 91, 5)).join("line")
    .attr("x1", d => Math.round(x(d)) + 0.5).attr("x2", d => Math.round(x(d)) + 0.5)
    .attr("y1", y(10)).attr("y2", y(-15)).attr("stroke", "#d2d2d2").attr("stroke-width", 1);
  // horizontal grid
  g.append("g").selectAll("line").data(eirpTicks).join("line")
    .attr("x1", plotLeft).attr("x2", plotRight)
    .attr("y1", d => Math.round(y(d)) + 0.5).attr("y2", d => Math.round(y(d)) + 0.5)
    .attr("stroke", "#b0b0b0").attr("stroke-width", 1);

  // y axis with ticks
  const yAxis = d3.axisLeft(y).tickValues(eirpTicks).tickSize(5).tickFormat("");
  const ya = g.append("g").attr("transform", `translate(${plotLeft + 0.5},0)`).call(yAxis);
  ya.select(".domain").attr("stroke", "#8a8a8a");
  ya.selectAll(".tick line").attr("stroke", "#8a8a8a");
  // x axis line
  const xAxis = d3.axisBottom(x).tickValues(angleTicks).tickSize(0).tickFormat("");
  const xa = g.append("g").attr("transform", `translate(0,${Math.round(plotBottom[i]) + 0.5})`).call(xAxis);
  xa.select(".domain").attr("stroke", "#8a8a8a");

  // y tick labels
  g.append("g").selectAll("g").data(eirpTicks).join("g")
    .attr("transform", d => `translate(60,${y(d)}) scale(${SX},1)`)
    .append("text").attr("text-anchor", "end").attr("dy", "0.36em")
    .attr("font-size", 9).attr("fill", "#404040").text(d => d);
  // x tick labels
  g.append("g").selectAll("g").data(angleTicks).join("g")
    .attr("transform", d => `translate(${x(d)},${plotBottom[i] + 18}) scale(${SX},1)`)
    .append("text").attr("text-anchor", "middle")
    .attr("font-size", 9).attr("fill", "#404040").text(d => d);

  // series
  const clipId = "clip" + i;
  g.append("clipPath").attr("id", clipId).append("rect")
    .attr("x", plotLeft).attr("y", plotTop[i]).attr("width", plotRight - plotLeft).attr("height", plotBottom[i] - plotTop[i]);
  const line = d3.line().defined(d => d !== null).x(d => x(d[0])).y(d => y(d[1])).curve(d3.curveMonotoneX);
  const sg = g.append("g").attr("clip-path", `url(#${clipId})`);
  p.series.forEach((s, k) => {
    sg.append("path").attr("d", line(s)).attr("fill", "none")
      .attr("stroke", p.colors[k]).attr("stroke-width", 3)
      .attr("stroke-linejoin", "round").attr("stroke-linecap", "round");
  });

  // reference line at 0 dBm
  g.append("line").attr("x1", plotLeft - 6).attr("x2", x(90))
    .attr("y1", y(refLevel)).attr("y2", y(refLevel))
    .attr("stroke", "#FF0000").attr("stroke-width", 4);

  // title
  const tg = g.append("g").attr("transform", `translate(${titleX[i]},${titleY[i]}) scale(${SX},1)`);
  tg.append("text").attr("font-size", 17).attr("font-weight", "bold").attr("fill", "#000")
    .text(panelTitles[i] + "\u00a0 " + panelFreqs[i]);

  // axis titles
  g.append("g").attr("transform", `translate(23,${(plotTop[i] + plotBottom[i]) / 2}) scale(${SX},1) rotate(-90)`)
    .append("text").attr("text-anchor", "middle").attr("dominant-baseline", "central")
    .attr("font-size", 17.5).attr("font-weight", "bold").attr("fill", "#000").text(yAxisTitle);
  g.append("g").attr("transform", `translate(363,${plotBottom[i] + 37}) scale(1.45,1)`)
    .append("text").attr("font-size", 16.5).attr("font-weight", "bold").attr("fill", "#000").text(xAxisTitle);

  // legend
  const ly0 = plotTop[i] + (p.names.length === 10 ? 65.7 : 105);
  const lg = g.append("g").selectAll("g").data(p.names).join("g")
    .attr("transform", (d, k) => `translate(0,${ly0 + k * 19.56})`);
  lg.append("line").attr("x1", 737).attr("x2", 767).attr("y1", 0).attr("y2", 0)
    .attr("stroke", (d, k) => p.colors[k]).attr("stroke-width", 3.5);
  lg.append("g").attr("transform", `translate(769,0) scale(${SX},1)`)
    .append("text").attr("dy", "0.35em").attr("font-size", 9).attr("fill", "#222").text(d => d);
});
</script>
</body></html>
